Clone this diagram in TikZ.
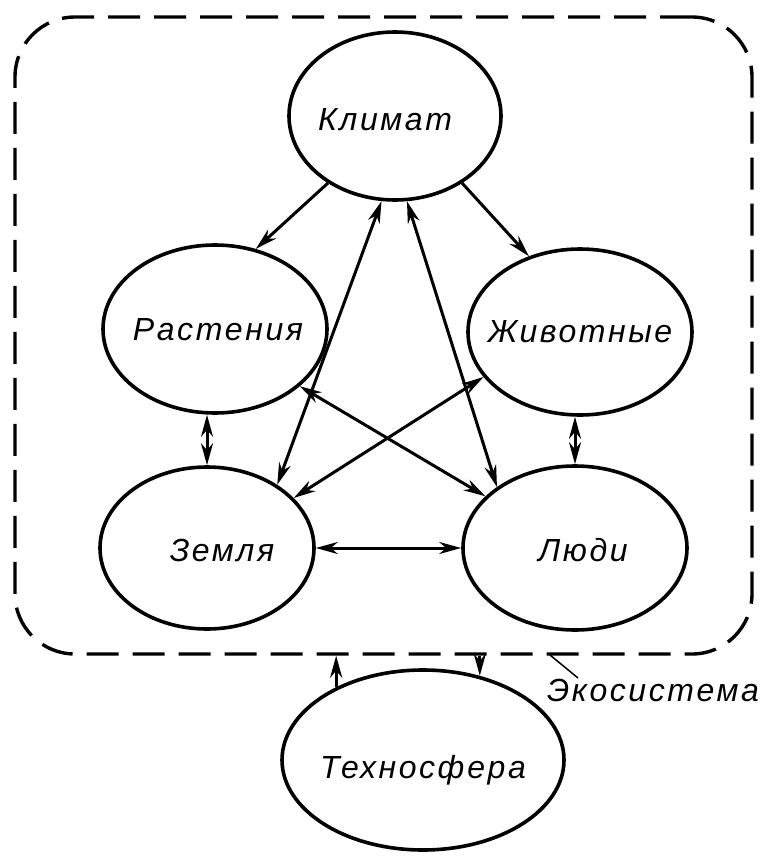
\documentclass[tikz,border=0pt]{standalone}
\usepackage{fontspec}
\setmainfont{Liberation Sans}
\newfontfamily\lblfont{Liberation Sans}[LetterSpace=8]
\usetikzlibrary{arrows.meta,shapes.geometric}
\begin{document}
\begin{tikzpicture}[x=1pt,y=-1pt,
  blob/.style={draw, ellipse, line width=3.6pt, inner sep=0pt},
  lbl/.style={inner sep=0pt, font=\lblfont\itshape\fontsize{32}{36}\selectfont},
  tip/.tip={Stealth[length=22pt,width=12pt,inset=7pt]},
  link/.style={line width=3pt, tip-tip},
  onelink/.style={line width=3pt, -tip},
  ecobox/.style={draw, dashed, dash pattern=on 32pt off 14pt, line width=3.4pt, rounded corners=60pt, inner sep=0pt}]
\useasboundingbox (0,0) rectangle (773,857);
% ecosystem frame
\node[ecobox, minimum width=737pt, minimum height=637pt] (eco) at (383.5,335.5) {};
% ellipses
\node[blob, minimum width=212pt, minimum height=168pt] (K) at (395,116) {};
\node[blob, minimum width=224pt, minimum height=168pt] (R) at (215,329) {};
\node[blob, minimum width=224pt, minimum height=166pt] (Zh) at (580,332) {};
\node[blob, minimum width=214pt, minimum height=162pt] (Z) at (207,548) {};
\node[blob, minimum width=224pt, minimum height=164pt] (L) at (575,548) {};
\node[blob, minimum width=282pt, minimum height=180pt] (T) at (423,760) {};
% labels
\node[lbl] (Kt) at (385,120) {Климат};
\node[lbl] (Rt) at (218,330) {Растения};
\node[lbl] (Zht) at (580,332) {Животные};
\node[lbl] (Zt) at (222,550) {Земля};
\node[lbl] (Lt) at (583,550) {Люди};
\node[lbl] (Tt) at (423,770) {Техносфера};
\node[lbl] (Et) at (653,690) {Экосистема};
% connectors
\draw[onelink] (K.225.9) -- (R.63.1);
\draw[onelink] (K.315.4) -- (Zh.124.5);
\draw[link] (K.261.9) -- (Z.42);
\draw[link] (K.278.8) -- (L.142.1);
\draw[link] (R.326.2) -- (L.150.5);
\draw[link] (Zh.205.4) -- (Z.30.1);
\draw[link] (Z.north |- R.south) -- (Z.north);
\draw[link] (L.north |- Zh.south) -- (L.north);
\draw[link] (Z.east) -- (L.west);
\draw[onelink] (T.140) -- (T.140 |- eco.south);
\draw[onelink] (T.56 |- eco.south) -- (T.56);
% leader to label
\coordinate (lead) at (550,655);
\coordinate (leadend) at (578,678);
\draw[line width=1.5pt] (lead) -- (leadend);
\end{tikzpicture}
\end{document}
